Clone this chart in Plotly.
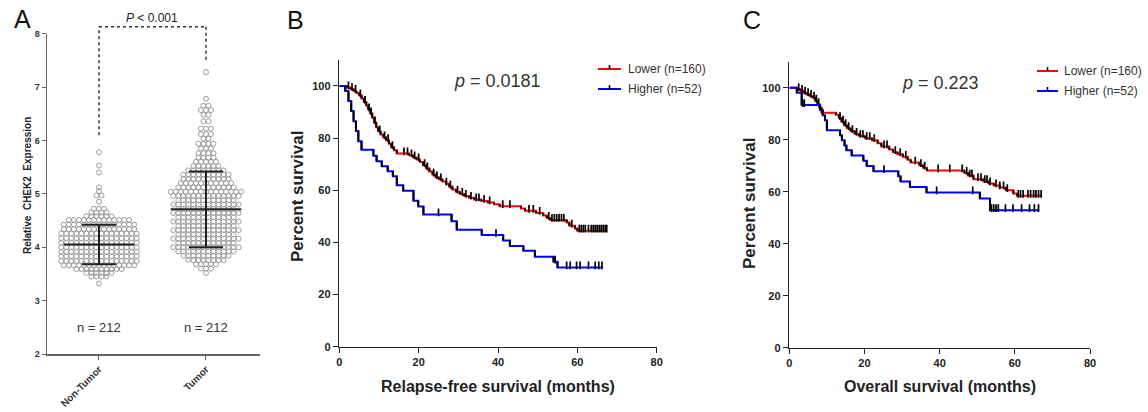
import numpy as np
import plotly.graph_objects as go

FONT = "Arial, Liberation Sans, sans-serif"

# ---------------- Panel A data (dot rows: value level, number of dots) -------------
groups = ["Non-Tumor", "Tumor"]
nt_levels = [3.32, 3.45, 3.52, 3.59, 3.66, 3.745, 3.83, 3.915, 4.00, 4.085, 4.17, 4.255,
             4.34, 4.425, 4.51, 4.58, 4.65, 4.72, 4.85, 4.97, 5.05, 5.12, 5.40, 5.53, 5.78]
nt_counts = [1, 4, 6, 10, 15, 16, 16, 16, 16, 16, 16, 16,
             15, 15, 13, 6, 4, 3, 1, 2, 1, 1, 1, 1, 1]
tu_levels = [3.52, 3.60, 3.68, 3.76, 3.84, 3.92, 4.00, 4.08, 4.16, 4.24, 4.32, 4.40, 4.48,
             4.56, 4.64, 4.72, 4.80, 4.88, 4.96, 5.04, 5.12, 5.20, 5.28, 5.36, 5.44, 5.52,
             5.60, 5.68, 5.76, 5.85, 5.94, 6.03, 6.12, 6.22, 6.36, 6.48, 6.57, 6.65, 6.78, 7.28]
tu_counts = [1, 3, 5, 8, 10, 12, 14, 12, 14, 12, 14, 12, 14,
             12, 14, 12, 14, 12, 14, 15, 12, 11, 10, 10, 8, 6,
             5, 4, 4, 3, 4, 2, 3, 3, 2, 2, 3, 2, 1, 1]
group_mean = [4.05, 4.71]
group_sd_low = [3.68, 4.00]
group_sd_high = [4.42, 5.42]
n_labels = ["n = 212", "n = 212"]
p_text_A = "<i>P</i> < 0.001"
bracket_left_start = 6.1
bracket_right_start = 7.5
bracket_top = 8.13

# ---------------- Panel B data: relapse-free survival ------------------------------
rfs_low_t = [0, 2.0, 2.8, 3.6, 4.3, 5.0, 5.6, 6.2, 6.8, 7.3, 7.8, 8.3, 8.8, 9.3, 9.8, 10.4,
             11.1, 11.8, 12.5, 13.1, 13.8, 14.5, 17.6, 18.6, 19.5, 20.3, 21.1, 21.9, 22.7,
             23.5, 24.3, 25.1, 26.0, 26.9, 27.7, 28.5, 29.4, 30.4, 31.5, 32.7, 34.0, 35.8,
             37.4, 39.0, 40.4, 45.8, 46.8, 49.6, 51.4, 52.3, 53.2, 57.3, 58.0, 59.4, 60.0]
rfs_low_s = [100, 99.4, 98.8, 98.1, 97.3, 96.4, 95.2, 93.9, 92.5, 91.0, 89.5, 87.8, 86.0,
             84.2, 82.6, 81.4, 80.3, 79.2, 77.8, 76.5, 75.3, 74.1, 73.4, 72.6, 71.8, 70.8,
             69.6, 68.4, 67.2, 66.0, 65.0, 64.2, 63.4, 62.5, 61.4, 60.3, 59.4, 58.6, 57.8,
             57.1, 56.5, 55.9, 55.3, 54.6, 53.9, 53.0, 52.1, 51.3, 50.3, 49.4, 48.6, 47.6,
             46.4, 45.3, 44.5]
rfs_low_end = 67.5
rfs_low_cens = [2.3, 3.2, 4.1, 5.3, 6.5, 7.5, 8.0, 9.0, 10.2, 11.4, 12.3, 13.4, 16.3, 17.2,
                18.2, 19.0, 20.0, 21.5, 22.2, 23.8, 24.6, 25.6, 27.0, 28.0, 29.8, 31.0,
                31.9, 33.2, 34.5, 35.2, 36.5, 37.9, 41.2, 43.0, 47.8, 48.9, 50.5, 52.8,
                53.6, 54.2, 54.8, 55.4, 56.0, 56.6, 58.6, 60.5, 61.0, 61.5, 62.0, 62.8,
                63.5, 64.0, 64.5, 65.0, 65.5, 66.0, 66.5, 67.0, 67.4]
rfs_high_t = [0, 1.5, 2.3, 3.0, 3.6, 4.2, 4.8, 5.6, 8.6, 9.4, 10.7, 12.2, 13.5, 14.5, 16.1,
              18.7, 19.9, 21.2, 28.3, 29.6, 35.9, 41.3, 43.0, 46.4, 49.3, 54.0, 55.0]
rfs_high_s = [100, 98.1, 94.2, 90.4, 86.5, 82.7, 78.8, 75.5, 73.2, 71.1, 69.2, 67.3, 65.4,
              61.9, 59.8, 56.0, 53.8, 50.7, 48.1, 44.9, 42.8, 40.7, 38.6, 36.8, 34.5, 32.6, 30.4]
rfs_high_end = 66.5
rfs_high_cens = [25.0, 39.5, 54.4, 57.3, 58.2, 59.8, 60.7, 62.8, 64.5, 65.4, 66.2]
p_text_B = "<i>p</i> = 0.0181"

# ---------------- Panel C data: overall survival -----------------------------------
os_low_t = [0, 2.2, 3.0, 3.8, 4.6, 5.4, 6.2, 6.9, 7.5, 8.0, 8.6, 12.4, 13.2, 13.9, 14.6,
            15.4, 16.3, 17.4, 18.6, 20.2, 22.0, 23.5, 24.5, 26.6, 27.6, 28.8, 30.2, 31.5,
            32.3, 34.6, 35.6, 36.6, 46.6, 47.6, 49.0, 51.6, 53.0, 54.4, 56.0, 57.6, 59.6, 60.6]
os_low_s = [100, 99.4, 98.8, 98.1, 97.5, 96.8, 96.2, 95.0, 93.7, 92.3, 90.4, 89.6, 88.3,
            86.9, 85.6, 84.4, 83.3, 82.2, 81.4, 80.6, 79.8, 78.6, 77.4, 76.2, 75.2, 74.4,
            73.4, 72.3, 71.2, 70.2, 69.2, 68.2, 67.2, 66.2, 64.8, 64.0, 63.2, 62.4, 61.6,
            60.6, 59.3, 58.4]
os_low_end = 67.2
os_low_cens = [2.5, 3.4, 4.2, 5.0, 5.8, 6.6, 7.2, 7.8, 13.5, 14.3, 15.0, 15.8, 16.8, 17.9,
               18.9, 19.6, 20.6, 21.4, 22.6, 25.2, 26.0, 28.2, 29.5, 31.0, 33.5, 35.0, 36.0,
               39.6, 42.7, 46.0, 47.2, 48.0, 48.6, 50.2, 51.0, 52.0, 52.6, 53.4, 55.0, 56.0,
               57.0, 58.0, 60.9, 61.5, 62.2, 63.5, 64.2, 65.0, 65.6, 66.3, 67.0]
os_high_t = [0, 2.0, 3.3, 8.2, 8.9, 9.5, 10.0, 13.5, 14.0, 14.7, 15.2, 16.6, 19.7, 20.6,
             22.4, 29.0, 29.6, 32.1, 36.5, 50.7, 53.4]
os_high_s = [100, 98.1, 93.3, 91.4, 89.4, 87.5, 83.6, 81.7, 79.8, 77.8, 75.9, 73.9, 71.9,
             69.9, 67.9, 65.9, 63.9, 61.8, 59.7, 57.4, 52.9]
os_high_end = 66.3
os_high_cens = [3.6, 4.0, 25.2, 39.2, 48.8, 53.8, 54.4, 55.0, 55.6, 57.5, 59.5, 61.8, 63.9,
                65.2, 66.3]
p_text_C = "<i>p</i> = 0.223"

legend_labels = ["Lower (n=160)", "Higher (n=52)"]
legend_colors = ["#ff0000", "#0000ff"]

# ---------------- Figure ---------------------------------------------------------
W, H = 1148, 412
fig = go.Figure()

# Panel A: dot plot
dx = 0.047
for gi, (levels, counts) in enumerate([(nt_levels, nt_counts), (tu_levels, tu_counts)]):
    xs, ys = [], []
    for v, n in zip(levels, counts):
        offs = (np.arange(n) - (n - 1) / 2.0) * dx
        xs.extend(gi + offs)
        ys.extend([v] * n)
    fig.add_trace(go.Scatter(x=xs, y=ys, mode="markers", xaxis="x", yaxis="y",
                             marker=dict(symbol="circle-open", size=5, color="#9c9c9c",
                                         line=dict(width=1, color="#9c9c9c")),
                             showlegend=False, hoverinfo="skip"))
# mean and SD bars
for gi in range(2):
    m, lo, hi = group_mean[gi], group_sd_low[gi], group_sd_high[gi]
    fig.add_trace(go.Scatter(
        x=[gi - 0.33, gi + 0.33, None, gi, gi, None, gi - 0.16, gi + 0.16, None, gi - 0.16, gi + 0.16],
        y=[m, m, None, lo, hi, None, lo, lo, None, hi, hi],
        mode="lines", line=dict(color="#222222", width=2), xaxis="x", yaxis="y",
        showlegend=False, hoverinfo="skip"))


def surv_at(ts, ss, c):
    idx = 0
    for i, t in enumerate(ts):
        if t <= c:
            idx = i
    return ss[idx]


def add_km(ts, ss, end, cens, color, xa, ya):
    fig.add_trace(go.Scatter(x=list(ts) + [end], y=list(ss) + [ss[-1]], mode="lines",
                             line=dict(color=color, width=2, shape="hv"),
                             xaxis=xa, yaxis=ya, showlegend=False, hoverinfo="skip"))
    vx, vy = [], []
    for i in range(1, len(ts)):
        vx += [ts[i], ts[i], None]
        vy += [ss[i - 1], ss[i], None]
    fig.add_trace(go.Scatter(x=vx, y=vy, mode="lines", line=dict(color="#000000", width=2),
                             xaxis=xa, yaxis=ya, showlegend=False, hoverinfo="skip"))
    fig.add_trace(go.Scatter(x=cens, y=[surv_at(ts, ss, c) + 0.8 for c in cens], mode="markers",
                             marker=dict(symbol="line-ns-open", size=5.5, color="#000000",
                                         line=dict(color="#000000", width=1.7)),
                             xaxis=xa, yaxis=ya, showlegend=False, hoverinfo="skip"))


add_km(rfs_low_t, rfs_low_s, rfs_low_end, rfs_low_cens, legend_colors[0], "x2", "y2")
add_km(rfs_high_t, rfs_high_s, rfs_high_end, rfs_high_cens, legend_colors[1], "x2", "y2")
add_km(os_low_t, os_low_s, os_low_end, os_low_cens, legend_colors[0], "x3", "y3")
add_km(os_high_t, os_high_s, os_high_end, os_high_cens, legend_colors[1], "x3", "y3")


def px(x):
    return x / W


def py(y):
    return 1 - y / H


axis_common = dict(showgrid=False, zeroline=False, showline=True, ticks="outside",
                   mirror=False, automargin=False)
A_xr = [-0.486, 1.505]
A_yr = [2, 8]
fig.update_layout(
    width=W, height=H, margin=dict(l=0, r=0, t=0, b=0, pad=0, autoexpand=False),
    paper_bgcolor="white", plot_bgcolor="white", showlegend=False,
    xaxis=dict(domain=[px(47), px(260)], range=A_xr, tickvals=[0, 1], ticktext=groups,
               tickangle=-45, anchor="y", linecolor="#666666", linewidth=1.5, ticklen=4,
               tickcolor="#666666",
               tickfont=dict(family=FONT, size=10, color="#333333", weight="bold"), **axis_common),
    yaxis=dict(domain=[py(354), py(33.7)], range=A_yr, tickvals=[2, 3, 4, 5, 6, 7, 8],
               anchor="x", linecolor="#666666", linewidth=1.5, ticklen=4, tickcolor="#666666",
               tickfont=dict(family=FONT, size=9, color="#333333", weight="bold"), **axis_common),
    xaxis2=dict(domain=[px(339.3), px(656.7)], range=[0, 80], dtick=20, anchor="y2",
                linecolor="#222222", linewidth=1.5, ticklen=5, tickcolor="#222222",
                tickfont=dict(family=FONT, size=11, color="#222222", weight="bold"), **axis_common),
    yaxis2=dict(domain=[py(346.7), py(59.9)], range=[0, 110], tickvals=[0, 20, 40, 60, 80, 100],
                anchor="x2", linecolor="#222222", linewidth=1.5, ticklen=5, tickcolor="#222222",
                tickfont=dict(family=FONT, size=11, color="#222222", weight="bold"), **axis_common),
    xaxis3=dict(domain=[px(789.3), px(1090)], range=[0, 80], dtick=20, anchor="y3",
                linecolor="#222222", linewidth=1.5, ticklen=5, tickcolor="#222222",
                tickfont=dict(family=FONT, size=11, color="#222222", weight="bold"), **axis_common),
    yaxis3=dict(domain=[py(347.7), py(61.7)], range=[0, 110], tickvals=[0, 20, 40, 60, 80, 100],
                anchor="x3", linecolor="#222222", linewidth=1.5, ticklen=5, tickcolor="#222222",
                tickfont=dict(family=FONT, size=11, color="#222222", weight="bold"), **axis_common),
)

ann = []
shapes = []


def text(x, y, t, size, color="#333333", bold=False, angle=0, xanchor="center"):
    ann.append(dict(x=px(x), y=py(y), xref="paper", yref="paper", text=t, showarrow=False,
                    textangle=angle, xanchor=xanchor, yanchor="middle",
                    font=dict(family=FONT, size=size, color=color,
                              weight="bold" if bold else "normal")))


# panel letters
text(22, 19, "A", 25, "#111111")
text(295, 20, "B", 25, "#111111")
text(752, 20, "C", 25, "#111111")

# Panel A texts
text(27, 186, "Relative  CHEK2  Expression", 10, "#222222", bold=True, angle=-90)
text(152, 18, p_text_A, 12, "#222222")
for gi in range(2):
    ann.append(dict(x=gi, y=2.5, xref="x", yref="y", text=n_labels[gi], showarrow=False,
                    font=dict(family=FONT, size=13, color="#333333")))


# bracket (in axis-domain fractions derived from the axis ranges)
def fx(v):
    return (v - A_xr[0]) / (A_xr[1] - A_xr[0])


def fy(v):
    return (v - A_yr[0]) / (A_yr[1] - A_yr[0])


brk = dict(type="line", xref="x domain", yref="y domain",
           line=dict(color="#333333", width=1.5, dash="dot"))
shapes.append(dict(brk, x0=fx(0), x1=fx(0), y0=fy(bracket_left_start), y1=fy(bracket_top)))
shapes.append(dict(brk, x0=fx(0), x1=fx(1), y0=fy(bracket_top), y1=fy(bracket_top)))
shapes.append(dict(brk, x0=fx(1), x1=fx(1), y0=fy(bracket_top), y1=fy(bracket_right_start)))

# Panel B texts
text(297, 197, "Percent survival", 17, "#222222", bold=True, angle=-90)
text(498, 386, "Relapse-free survival (months)", 16, "#222222", bold=True)
text(497, 81, p_text_B, 18, "#333333")
# Panel C texts
text(749, 204, "Percent survival", 17, "#222222", bold=True, angle=-90)
text(940, 386, "Overall survival (months)", 16, "#222222", bold=True)
text(940, 83, p_text_C, 18, "#333333")

# legends
for (lx0, lx1, ty, ys) in [(598, 621, 626, [69, 89]), (1037, 1058, 1062, [71, 91])]:
    for i in range(2):
        shapes.append(dict(type="line", xref="paper", yref="paper", x0=px(lx0), x1=px(lx1),
                           y0=py(ys[i]), y1=py(ys[i]), line=dict(color=legend_colors[i], width=2)))
        cx = (lx0 + lx1) / 2
        shapes.append(dict(type="line", xref="paper", yref="paper", x0=px(cx), x1=px(cx),
                           y0=py(ys[i] - 4), y1=py(ys[i]), line=dict(color="#000000", width=1.6)))
        text(ty, ys[i], legend_labels[i], 12, "#333333", xanchor="left")

fig.update_layout(annotations=ann, shapes=shapes)
fig.write_html("out.html", config={"displayModeBar": False, "staticPlot": True},
               post_script="document.body.style.margin='0';document.body.style.overflow='hidden';")
